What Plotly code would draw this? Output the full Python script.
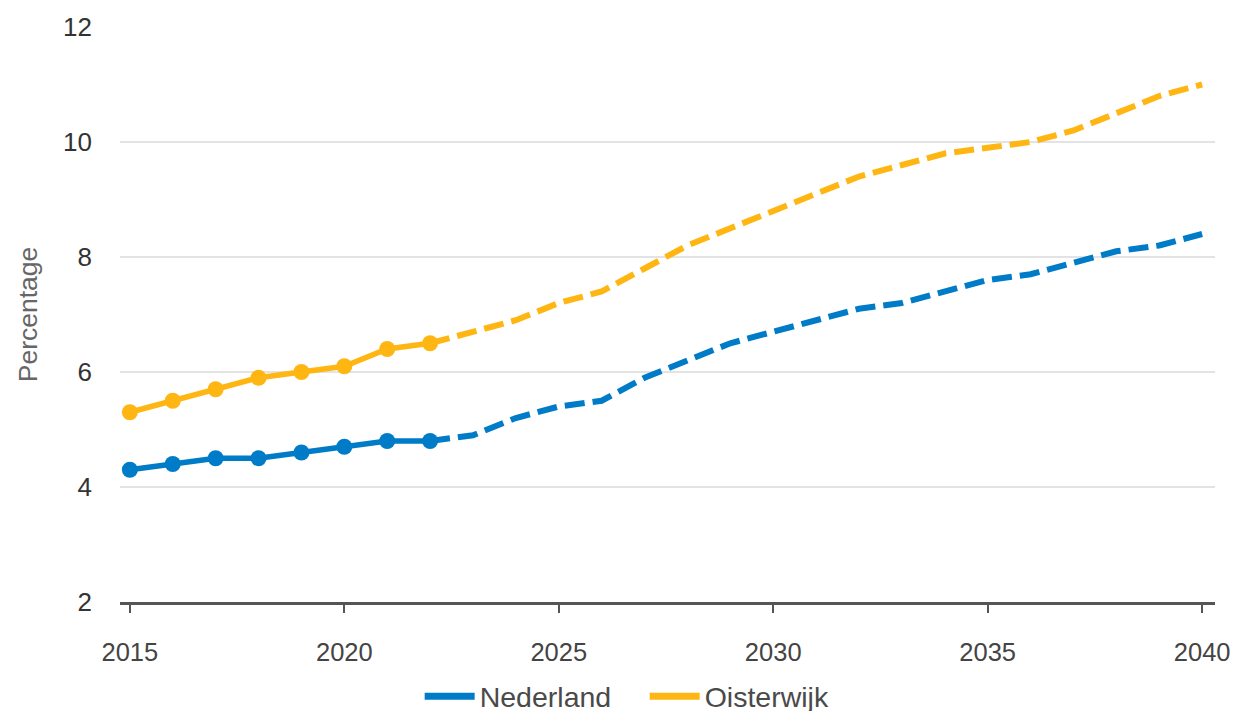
import plotly.graph_objects as go

years_hist = [2015, 2016, 2017, 2018, 2019, 2020, 2021, 2022]
years_proj = list(range(2022, 2041))

nl_hist = [4.3, 4.4, 4.5, 4.5, 4.6, 4.7, 4.8, 4.8]
nl_proj = [4.8, 4.9, 5.2, 5.4, 5.5, 5.9, 6.2, 6.5, 6.7, 6.9, 7.1, 7.2, 7.4, 7.6, 7.7, 7.9, 8.1, 8.2, 8.4]

oi_hist = [5.3, 5.5, 5.7, 5.9, 6.0, 6.1, 6.4, 6.5]
oi_proj = [6.5, 6.7, 6.9, 7.2, 7.4, 7.8, 8.2, 8.5, 8.8, 9.1, 9.4, 9.6, 9.8, 9.9, 10.0, 10.2, 10.5, 10.8, 11.0]

x_ticks = [2015, 2020, 2025, 2030, 2035, 2040]
y_ticks = [2, 4, 6, 8, 10, 12]

BLUE = "#007bc7"
ORANGE = "#ffb612"
FONT = "Liberation Sans, Arial, sans-serif"

fig = go.Figure()

series = [
    ("Nederland", BLUE, nl_hist, nl_proj),
    ("Oisterwijk", ORANGE, oi_hist, oi_proj),
]

for name, color, hist, proj in series:
    fig.add_trace(go.Scatter(
        x=years_proj, y=proj, mode="lines",
        line=dict(color=color, width=6, dash="20px,8px"),
        showlegend=False, hoverinfo="skip",
    ))
    fig.add_trace(go.Scatter(
        x=years_hist, y=hist, mode="lines+markers",
        line=dict(color=color, width=5.5),
        marker=dict(color=color, size=16),
        showlegend=False, name=name,
    ))

for name, color, hist, proj in series:
    fig.add_trace(go.Scatter(
        x=[None], y=[None], mode="lines", name=name,
        line=dict(color=color, width=7),
    ))

fig.update_layout(
    width=1235, height=711,
    margin=dict(l=120, r=20, t=27, b=109),
    paper_bgcolor="white", plot_bgcolor="white",
    font=dict(family=FONT, color="#333333"),
    legend=dict(
        orientation="h", xref="container", yref="container",
        x=0.522, xanchor="center", y=0.02, yanchor="middle",
        font=dict(size=28.5, color="#4a4a4a"),
        itemwidth=50, tracegroupgap=0, entrywidth=160,
    ),
)

fig.update_xaxes(
    range=[2014.77, 2040.3],
    automargin=False,
    tickmode="array", tickvals=x_ticks,
    ticks="outside", ticklen=8, tickwidth=2, tickcolor="#555555",
    showline=True, linecolor="#555555", linewidth=2.5,
    showgrid=False, zeroline=False,
    tickfont=dict(size=25.5, color="#444444"),
    ticklabelstandoff=18,
)

fig.update_yaxes(
    range=[2, 12],
    automargin=False,
    tickmode="array", tickvals=y_ticks,
    showgrid=True, gridcolor="#e3e3e3", gridwidth=1.5,
    zeroline=False, showline=False, ticks="",
    tickfont=dict(size=26, color="#333333"),
    ticklabelstandoff=27,
    title=dict(text="Percentage", font=dict(size=26.5, color="#666666"), standoff=17),
)

fig.write_html(
    "out.html",
    config={"displayModeBar": False},
    post_script=(
        "document.body.style.margin='0';"
        "document.body.style.overflow='hidden';"
    ),
)
